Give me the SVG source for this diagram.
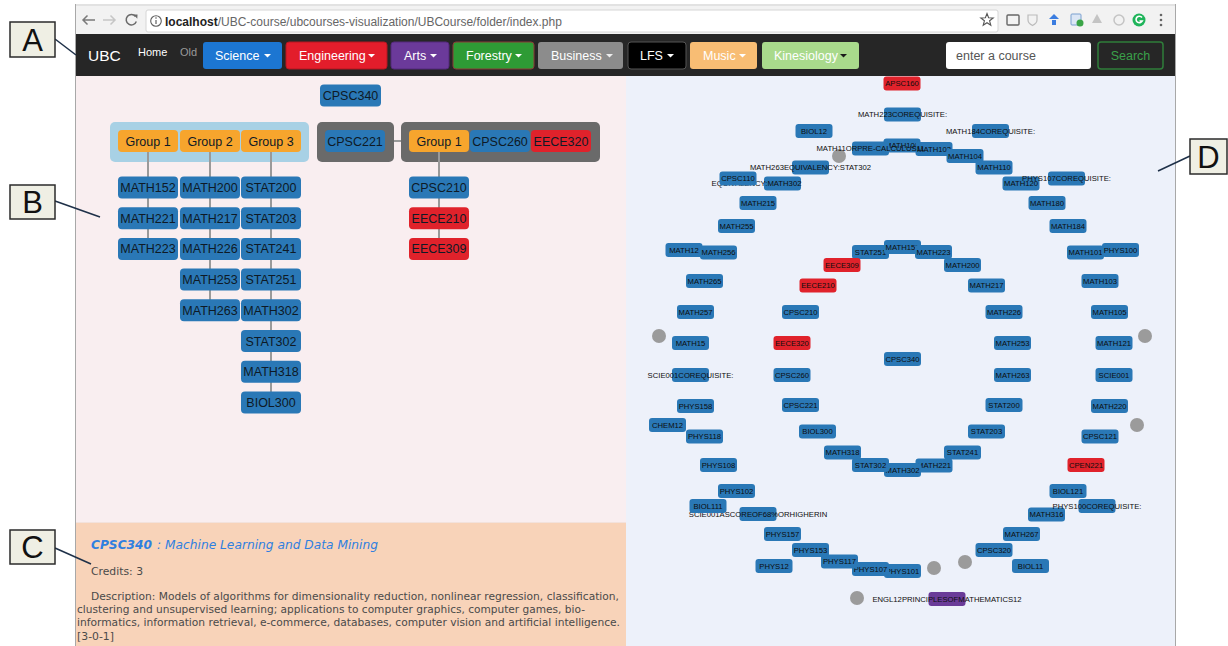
<svg xmlns="http://www.w3.org/2000/svg" width="1228" height="646" viewBox="0 0 1228 646">
<style>
.sans{font-family:"Liberation Sans",Arial,sans-serif}
.nb{fill:#2a78b6}
.nr{fill:#e0222b}
.no{fill:#f7a52d}
.np{fill:#6a3b98}
.gc{fill:#9b9b9b}
.t8{font-family:"Liberation Sans",Arial,sans-serif;font-size:7.7px;fill:#0d0d0d;text-anchor:middle}
.t12{font-family:"Liberation Sans",Arial,sans-serif;font-size:12.5px;fill:#0e1a26;text-anchor:middle}
.btn{font-family:"Liberation Sans",Arial,sans-serif;font-size:12.5px;fill:#fff}
.tree{stroke:#9a9a9a;stroke-width:2;fill:none}
.call{stroke:#1e3048;stroke-width:1.5;fill:none}
.lab rect{fill:#efefe4;stroke:#2b2b2b;stroke-width:1.5}
.lab text{font-family:"Liberation Sans",Arial,sans-serif;font-size:31px;fill:#111;text-anchor:middle}
.desc{font-family:"DejaVu Sans",Verdana,sans-serif;font-size:11px;fill:#4a4a4a}
.ico{fill:none;stroke:#666;stroke-width:1.4}
</style>
<defs>
<rect id="sb" x="-18.5" y="-7" width="37" height="14" rx="3"/>
<rect id="lb" x="-30" y="-11" width="60" height="22" rx="4"/>
<polygon id="caret" points="0,0 7,0 3.5,3.5"/>
</defs>

<rect width="1228" height="646" fill="#fff"/>

<!-- browser chrome -->
<g id="browser-bar">
<rect x="75" y="4" width="1100" height="31" fill="#f2f2f2"/>
<line x1="75" y1="5" x2="1175" y2="5" stroke="#d2d2d2"/>
<path d="M95 20H83M87.5 15.5L83 20L87.5 24.5" stroke="#7a7a7a" stroke-width="1.5" fill="none"/>
<path d="M103 20H115M110.5 15.5L115 20L110.5 24.5" stroke="#c6c6c6" stroke-width="1.5" fill="none"/>
<path d="M135.5 16.5A5.2 5.2 0 1 0 136.3 21.5" stroke="#6a6a6a" stroke-width="1.5" fill="none"/>
<polygon points="133.5,14.5 137.5,14.5 137.3,18.8" fill="#6a6a6a"/>
<rect x="146" y="10" width="852" height="22" rx="2" fill="#fff" stroke="#d6d6d6"/>
<circle cx="156" cy="21" r="5.3" fill="none" stroke="#5f5f5f" stroke-width="1.1"/>
<line x1="156" y1="20" x2="156" y2="24" stroke="#5f5f5f" stroke-width="1.2"/>
<circle cx="156" cy="18" r="0.8" fill="#5f5f5f"/>
<text class="sans" x="165" y="25.5" font-size="12" fill="#666"><tspan fill="#222" font-weight="bold">localhost</tspan>/UBC-course/ubcourses-visualization/UBCourse/folder/index.php</text>
<polygon points="987,13.5 988.6,17.8 993.2,18 989.6,20.8 990.8,25.3 987,22.7 983.2,25.3 984.4,20.8 980.8,18 985.4,17.8" fill="none" stroke="#555" stroke-width="1.1"/>
<rect x="1007" y="15" width="12" height="10" rx="1" class="ico"/>
<path d="M1028 15h9v5c0 3-2.5 4.5-4.5 5.5c-2-1-4.5-2.5-4.5-5.5z" fill="none" stroke="#bbb" stroke-width="1.2"/>
<polygon points="1054,14 1059,19 1049,19" fill="#3b7de0"/>
<rect x="1052" y="20" width="4" height="5" fill="#3b7de0"/>
<rect x="1071" y="14" width="10" height="11" rx="1" fill="#dbe6f5" stroke="#7aa0d0"/>
<circle cx="1080" cy="23" r="3.5" fill="#3aa447"/>
<path d="M1097 14l5 9h-10z" fill="#c4c4c4"/>
<circle cx="1119" cy="20" r="5" fill="none" stroke="#c4c4c4" stroke-width="1.5"/>
<circle cx="1139" cy="20" r="6.5" fill="#1fb45a"/>
<path d="M1142 17.5A3.3 3.3 0 1 0 1142.3 21H1139.5" stroke="#fff" stroke-width="1.6" fill="none"/>
<circle cx="1161" cy="15" r="1.3" fill="#666"/><circle cx="1161" cy="20" r="1.3" fill="#666"/><circle cx="1161" cy="25" r="1.3" fill="#666"/>
</g>

<!-- navbar -->
<g id="navbar">
<rect x="75" y="34" width="1100" height="42" fill="#262626"/>
<text class="sans" x="88" y="61" font-size="15.5" fill="#fff">UBC</text>
<text class="sans" x="138" y="55.5" font-size="11" fill="#fff">Home</text>
<text class="sans" x="180" y="55.5" font-size="11" fill="#9a9a9a">Old</text>
<g id="btn-science"><rect x="203" y="42" width="79" height="27" rx="3" fill="#1c76d2"/><text class="btn" x="215" y="60">Science</text><use href="#caret" x="264" y="54" fill="#fff"/></g>
<g id="btn-engineering"><rect x="286" y="42" width="101" height="27" rx="3" fill="#e31d2b" stroke="#b51620"/><text class="btn" x="299" y="60">Engineering</text><use href="#caret" x="368" y="54" fill="#fff"/></g>
<g id="btn-arts"><rect x="391" y="42" width="58" height="27" rx="3" fill="#6b3a9a" stroke="#54287c"/><text class="btn" x="404" y="60">Arts</text><use href="#caret" x="430" y="54" fill="#fff"/></g>
<g id="btn-forestry"><rect x="453" y="42" width="81" height="27" rx="3" fill="#2e9b35" stroke="#8a3a36"/><text class="btn" x="466" y="60">Forestry</text><use href="#caret" x="515" y="54" fill="#fff"/></g>
<g id="btn-business"><rect x="538" y="42" width="85" height="27" rx="3" fill="#8c8c8c"/><text class="btn" x="551" y="60" fill="#eee">Business</text><use href="#caret" x="606" y="54" fill="#eee"/></g>
<g id="btn-lfs"><rect x="628" y="42" width="58" height="27" rx="3" fill="#000" stroke="#555"/><text class="btn" x="640" y="60">LFS</text><use href="#caret" x="667" y="54" fill="#fff"/></g>
<g id="btn-music"><rect x="690" y="42" width="67" height="27" rx="3" fill="#f8bd74"/><text class="btn" x="703" y="60">Music</text><use href="#caret" x="739" y="54" fill="#fff"/></g>
<g id="btn-kinesiology"><rect x="762" y="42" width="97" height="27" rx="3" fill="#a9da8c"/><text class="btn" x="774" y="60" fill="#1a1a1a">Kinesiology</text><use href="#caret" x="840" y="54" fill="#1a1a1a"/></g>
<g id="search"><rect x="946" y="42" width="145" height="27" rx="3" fill="#fff"/><text class="sans" x="956" y="60" font-size="12.5" fill="#555">enter a course</text>
<rect x="1098" y="42" width="65" height="27" rx="3" fill="#262626" stroke="#2f7d3a" stroke-width="1.5"/><text class="sans" x="1130.5" y="60" font-size="12.5" fill="#3aa04a" text-anchor="middle">Search</text></g>
</g>

<!-- panels -->
<rect id="tree-panel" x="75" y="76" width="551" height="446" fill="#f9eef0"/>
<rect id="info-panel" x="75" y="522" width="551" height="124" fill="#f8d3b9"/>
<line x1="75" y1="522.5" x2="626" y2="522.5" stroke="#f3e2dc"/>
<rect id="radial-panel" x="626" y="76" width="549" height="570" fill="#edf1fa"/>
<line x1="75.5" y1="4" x2="75.5" y2="646" stroke="#a8a8a8"/>
<line x1="1175.5" y1="4" x2="1175.5" y2="646" stroke="#a8a8a8"/>

<!-- prerequisite tree -->
<g id="group-boxes">
<rect x="110" y="122" width="199" height="40" rx="5" fill="#a8d1e5"/>
<rect x="317" y="122" width="77" height="40" rx="5" fill="#6a6a6a"/>
<rect x="401" y="122" width="199" height="40" rx="5" fill="#6a6a6a"/>
</g>
<g id="connectors">
<line class="tree" x1="394" y1="141" x2="401" y2="141"/>
<line class="tree" x1="148" y1="152" x2="148" y2="249"/>
<line class="tree" x1="210" y1="152" x2="210" y2="310"/>
<line class="tree" x1="271" y1="152" x2="271" y2="402"/>
<line class="tree" x1="439" y1="152" x2="439" y2="249"/>
<line class="call" x1="55" y1="39" x2="76" y2="55"/>
<line class="call" x1="55" y1="201" x2="100" y2="217"/>
<line class="call" x1="55" y1="548" x2="91" y2="564"/>
<line class="call" x1="1190" y1="156" x2="1158" y2="171"/>
</g>
<g id="t-CPSC340" transform="translate(350.5,95.5)"><rect x="-30.5" y="-11" width="61" height="22" rx="4" class="nb"/><text class="t12" y="4.5">CPSC340</text></g>
<g id="t-group1" transform="translate(148,141)"><use href="#lb" class="no"/><text class="t12" y="4.5">Group 1</text></g>
<g id="t-group2" transform="translate(210,141)"><use href="#lb" class="no"/><text class="t12" y="4.5">Group 2</text></g>
<g id="t-group3" transform="translate(271,141)"><use href="#lb" class="no"/><text class="t12" y="4.5">Group 3</text></g>
<g id="t-CPSC221" transform="translate(355,141)"><use href="#lb" class="nb"/><text class="t12" y="4.5">CPSC221</text></g>
<g id="t-group1b" transform="translate(439,141)"><use href="#lb" class="no"/><text class="t12" y="4.5">Group 1</text></g>
<g id="t-CPSC260" transform="translate(500,141)"><use href="#lb" class="nb"/><text class="t12" y="4.5">CPSC260</text></g>
<g id="t-EECE320" transform="translate(561,141)"><use href="#lb" class="nr"/><text class="t12" y="4.5">EECE320</text></g>

<g id="t-MATH152" transform="translate(148,187.5)"><use href="#lb" class="nb"/><text class="t12" y="4.5">MATH152</text></g>
<g id="t-MATH221" transform="translate(148,218.2)"><use href="#lb" class="nb"/><text class="t12" y="4.5">MATH221</text></g>
<g id="t-MATH223" transform="translate(148,248.9)"><use href="#lb" class="nb"/><text class="t12" y="4.5">MATH223</text></g>
<g id="t-MATH200" transform="translate(210,187.5)"><use href="#lb" class="nb"/><text class="t12" y="4.5">MATH200</text></g>
<g id="t-MATH217" transform="translate(210,218.2)"><use href="#lb" class="nb"/><text class="t12" y="4.5">MATH217</text></g>
<g id="t-MATH226" transform="translate(210,248.9)"><use href="#lb" class="nb"/><text class="t12" y="4.5">MATH226</text></g>
<g id="t-MATH253" transform="translate(210,279.6)"><use href="#lb" class="nb"/><text class="t12" y="4.5">MATH253</text></g>
<g id="t-MATH263" transform="translate(210,310.3)"><use href="#lb" class="nb"/><text class="t12" y="4.5">MATH263</text></g>
<g id="t-STAT200" transform="translate(271,187.5)"><use href="#lb" class="nb"/><text class="t12" y="4.5">STAT200</text></g>
<g id="t-STAT203" transform="translate(271,218.2)"><use href="#lb" class="nb"/><text class="t12" y="4.5">STAT203</text></g>
<g id="t-STAT241" transform="translate(271,248.9)"><use href="#lb" class="nb"/><text class="t12" y="4.5">STAT241</text></g>
<g id="t-STAT251" transform="translate(271,279.6)"><use href="#lb" class="nb"/><text class="t12" y="4.5">STAT251</text></g>
<g id="t-MATH302" transform="translate(271,310.3)"><use href="#lb" class="nb"/><text class="t12" y="4.5">MATH302</text></g>
<g id="t-STAT302" transform="translate(271,341)"><use href="#lb" class="nb"/><text class="t12" y="4.5">STAT302</text></g>
<g id="t-MATH318" transform="translate(271,371.7)"><use href="#lb" class="nb"/><text class="t12" y="4.5">MATH318</text></g>
<g id="t-BIOL300" transform="translate(271,402.4)"><use href="#lb" class="nb"/><text class="t12" y="4.5">BIOL300</text></g>
<g id="t-CPSC210" transform="translate(439,187.5)"><use href="#lb" class="nb"/><text class="t12" y="4.5">CPSC210</text></g>
<g id="t-EECE210" transform="translate(439,218.2)"><use href="#lb" class="nr"/><text class="t12" y="4.5">EECE210</text></g>
<g id="t-EECE309" transform="translate(439,248.9)"><use href="#lb" class="nr"/><text class="t12" y="4.5">EECE309</text></g>

<!-- course details -->
<g id="course-info">
<text x="91" y="549" font-family="DejaVu Sans,Verdana,sans-serif" font-size="13" font-style="italic" font-weight="bold" fill="#2f7fe0" textLength="61" lengthAdjust="spacingAndGlyphs">CPSC340</text>
<text x="157" y="549" font-family="DejaVu Sans,Verdana,sans-serif" font-size="13" font-style="italic" fill="#2f7fe0" textLength="221" lengthAdjust="spacingAndGlyphs">: Machine Learning and Data Mining</text>
<text class="desc" x="91" y="575" textLength="52" lengthAdjust="spacingAndGlyphs">Credits: 3</text>
<text class="desc" x="91" y="600" textLength="528" lengthAdjust="spacingAndGlyphs">Description: Models of algorithms for dimensionality reduction, nonlinear regression, classification,</text>
<text class="desc" x="77" y="613" textLength="508" lengthAdjust="spacingAndGlyphs">clustering and unsupervised learning; applications to computer graphics, computer games, bio-</text>
<text class="desc" x="77" y="626" textLength="543" lengthAdjust="spacingAndGlyphs">informatics, information retrieval, e-commerce, databases, computer vision and artificial intelligence.</text>
<text class="desc" x="77" y="640" textLength="37" lengthAdjust="spacingAndGlyphs">[3-0-1]</text>
</g>

<!-- radial view: outer ring -->
<g id="r-MATH100" transform="translate(902,145.5)"><use href="#sb" class="nb"/><text class="t8" y="2.8">MATH100</text></g>
<g id="r-MATH102" transform="translate(934,149)"><use href="#sb" class="nb"/><text class="t8" y="2.8">MATH102</text></g>
<g id="r-MATH104" transform="translate(965,156)"><use href="#sb" class="nb"/><text class="t8" y="2.8">MATH104</text></g>
<g id="r-MATH110" transform="translate(994,167.5)"><use href="#sb" class="nb"/><text class="t8" y="2.8">MATH110</text></g>
<g id="r-MATH120" transform="translate(1021,183.5)"><use href="#sb" class="nb"/><text class="t8" y="2.8">MATH120</text></g>
<g id="r-MATH180" transform="translate(1047,203)"><use href="#sb" class="nb"/><text class="t8" y="2.8">MATH180</text></g>
<g id="r-MATH184" transform="translate(1068,226)"><use href="#sb" class="nb"/><text class="t8" y="2.8">MATH184</text></g>
<g id="r-MATH101" transform="translate(1085.5,252.5)"><use href="#sb" class="nb"/><text class="t8" y="2.8">MATH101</text></g>
<g id="r-MATH103" transform="translate(1100,281)"><use href="#sb" class="nb"/><text class="t8" y="2.8">MATH103</text></g>
<g id="r-MATH105" transform="translate(1109.5,312)"><use href="#sb" class="nb"/><text class="t8" y="2.8">MATH105</text></g>
<g id="r-MATH121" transform="translate(1114,343)"><use href="#sb" class="nb"/><text class="t8" y="2.8">MATH121</text></g>
<g id="r-SCIE001" transform="translate(1114,375)"><use href="#sb" class="nb"/><text class="t8" y="2.8">SCIE001</text></g>
<g id="r-MATH220" transform="translate(1109.5,406)"><use href="#sb" class="nb"/><text class="t8" y="2.8">MATH220</text></g>
<g id="r-CPSC121" transform="translate(1100,436.5)"><use href="#sb" class="nb"/><text class="t8" y="2.8">CPSC121</text></g>
<g id="r-CPEN221" transform="translate(1086,465)"><use href="#sb" class="nr"/><text class="t8" y="2.8">CPEN221</text></g>
<g id="r-BIOL121" transform="translate(1068,491)"><use href="#sb" class="nb"/><text class="t8" y="2.8">BIOL121</text></g>
<g id="r-MATH316" transform="translate(1046.5,514.5)"><use href="#sb" class="nb"/><text class="t8" y="2.8">MATH316</text></g>
<g id="r-MATH267" transform="translate(1021.5,534)"><use href="#sb" class="nb"/><text class="t8" y="2.8">MATH267</text></g>
<g id="r-CPSC320" transform="translate(994,550)"><use href="#sb" class="nb"/><text class="t8" y="2.8">CPSC320</text></g>
<g id="r-dot1"><circle class="gc" cx="965" cy="562" r="7"/></g>
<g id="r-dot2"><circle class="gc" cx="934" cy="568" r="7"/></g>
<g id="r-PHYS101" transform="translate(902.5,571)"><use href="#sb" class="nb"/><text class="t8" y="2.8">PHYS101</text></g>
<g id="r-PHYS107" transform="translate(870.5,569)"><use href="#sb" class="nb"/><text class="t8" y="2.8">PHYS107</text></g>
<g id="r-PHYS117" transform="translate(839.5,561.5)"><use href="#sb" class="nb"/><text class="t8" y="2.8">PHYS117</text></g>
<g id="r-PHYS153" transform="translate(810.5,550)"><use href="#sb" class="nb"/><text class="t8" y="2.8">PHYS153</text></g>
<g id="r-PHYS157" transform="translate(782.5,534)"><use href="#sb" class="nb"/><text class="t8" y="2.8">PHYS157</text></g>
<g id="r-SCIE001AS" transform="translate(758,514)"><use href="#sb" class="nb"/><text class="t8" y="2.8">SCIE001ASCOREOF68%ORHIGHERIN</text></g>
<g id="r-PHYS102" transform="translate(736.5,491)"><use href="#sb" class="nb"/><text class="t8" y="2.8">PHYS102</text></g>
<g id="r-PHYS108" transform="translate(718.5,465)"><use href="#sb" class="nb"/><text class="t8" y="2.8">PHYS108</text></g>
<g id="r-PHYS118" transform="translate(704.5,436.5)"><use href="#sb" class="nb"/><text class="t8" y="2.8">PHYS118</text></g>
<g id="r-PHYS158" transform="translate(695.5,406)"><use href="#sb" class="nb"/><text class="t8" y="2.8">PHYS158</text></g>
<g id="r-SCIE001CO" transform="translate(690.5,375)"><use href="#sb" class="nb"/><text class="t8" y="2.8">SCIE001COREQUISITE:</text></g>
<g id="r-MATH15" transform="translate(690.5,343)"><use href="#sb" class="nb"/><text class="t8" y="2.8">MATH15</text></g>
<g id="r-MATH257" transform="translate(695.5,312)"><use href="#sb" class="nb"/><text class="t8" y="2.8">MATH257</text></g>
<g id="r-MATH265" transform="translate(704.5,281)"><use href="#sb" class="nb"/><text class="t8" y="2.8">MATH265</text></g>
<g id="r-MATH12" transform="translate(684,250)"><use href="#sb" class="nb"/><text class="t8" y="2.8">MATH12</text></g>
<g id="r-MATH256" transform="translate(718.5,252.5)"><use href="#sb" class="nb"/><text class="t8" y="2.8">MATH256</text></g>
<g id="r-MATH255" transform="translate(736.5,226)"><use href="#sb" class="nb"/><text class="t8" y="2.8">MATH255</text></g>
<g id="r-MATH215" transform="translate(758,203)"><use href="#sb" class="nb"/><text class="t8" y="2.8">MATH215</text></g>
<g id="r-EQUIV302" transform="translate(782.5,183.5)"><use href="#sb" class="nb"/><text class="t8" x="-26" y="2.8" text-anchor="start">EQUIVALENCY:MATH302</text></g>
<g id="r-MATH263EQ" transform="translate(810.5,167.5)"><use href="#sb" class="nb"/><text class="t8" y="2.8">MATH263EQUIVALENCY:STAT302</text></g>
<g id="r-dot3"><circle class="gc" cx="839" cy="156" r="7"/></g>
<g id="r-MATH11OR" transform="translate(870.5,148.5)"><use href="#sb" class="nb"/><text class="t8" y="2.8">MATH11ORPRE-CALCULUS11</text></g>

<!-- radial view: third ring -->
<g id="r-APSC160" transform="translate(902,83.5)"><use href="#sb" class="nr"/><text class="t8" y="2.8">APSC160</text></g>
<g id="r-MATH223CO" transform="translate(902.5,114.5)"><use href="#sb" class="nb"/><text class="t8" y="2.8">MATH223COREQUISITE:</text></g>
<g id="r-MATH184CO" transform="translate(990.5,131)"><use href="#sb" class="nb"/><text class="t8" y="2.8">MATH184COREQUISITE:</text></g>
<g id="r-PHYS107CO" transform="translate(1066.5,178.5)"><use href="#sb" class="nb"/><text class="t8" y="2.8">PHYS107COREQUISITE:</text></g>
<g id="r-PHYS100" transform="translate(1120.5,250)"><use href="#sb" class="nb"/><text class="t8" y="2.8">PHYS100</text></g>
<g id="r-dot4"><circle class="gc" cx="1145" cy="336" r="7"/></g>
<g id="r-dot5"><circle class="gc" cx="1137" cy="425" r="7"/></g>
<g id="r-PHYS100CO" transform="translate(1097,506)"><use href="#sb" class="nb"/><text class="t8" y="2.8">PHYS100COREQUISITE:</text></g>
<g id="r-BIOL11" transform="translate(1030.5,566)"><use href="#sb" class="nb"/><text class="t8" y="2.8">BIOL11</text></g>
<g id="r-ENGL12" transform="translate(947,599)"><use href="#sb" class="np"/><text class="t8" y="2.8">ENGL12PRINCIPLESOFMATHEMATICS12</text></g>
<g id="r-dot6"><circle class="gc" cx="857" cy="598" r="7"/></g>
<g id="r-PHYS12" transform="translate(774,566)"><use href="#sb" class="nb"/><text class="t8" y="2.8">PHYS12</text></g>
<g id="r-BIOL111" transform="translate(708,506)"><use href="#sb" class="nb"/><text class="t8" y="2.8">BIOL111</text></g>
<g id="r-CHEM12" transform="translate(667.5,425)"><use href="#sb" class="nb"/><text class="t8" y="2.8">CHEM12</text></g>
<g id="r-dot7"><circle class="gc" cx="659" cy="336" r="7"/></g>
<g id="r-CPSC110" transform="translate(738,178.5)"><use href="#sb" class="nb"/><text class="t8" y="2.8">CPSC110</text></g>
<g id="r-BIOL12" transform="translate(814,131)"><use href="#sb" class="nb"/><text class="t8" y="2.8">BIOL12</text></g>

<!-- radial view: inner ring -->
<g id="r-STAT251" transform="translate(870.5,252)"><use href="#sb" class="nb"/><text class="t8" y="2.8">STAT251</text></g>
<g id="r-MATH152" transform="translate(902.5,247)"><use href="#sb" class="nb"/><text class="t8" y="2.8">MATH152</text></g>
<g id="r-MATH223" transform="translate(933.5,252)"><use href="#sb" class="nb"/><text class="t8" y="2.8">MATH223</text></g>
<g id="r-MATH200" transform="translate(962.5,265)"><use href="#sb" class="nb"/><text class="t8" y="2.8">MATH200</text></g>
<g id="r-MATH217" transform="translate(986.5,285.5)"><use href="#sb" class="nb"/><text class="t8" y="2.8">MATH217</text></g>
<g id="r-MATH226" transform="translate(1004,312)"><use href="#sb" class="nb"/><text class="t8" y="2.8">MATH226</text></g>
<g id="r-MATH253" transform="translate(1012.5,343)"><use href="#sb" class="nb"/><text class="t8" y="2.8">MATH253</text></g>
<g id="r-MATH263" transform="translate(1012.5,375)"><use href="#sb" class="nb"/><text class="t8" y="2.8">MATH263</text></g>
<g id="r-STAT200" transform="translate(1004,405)"><use href="#sb" class="nb"/><text class="t8" y="2.8">STAT200</text></g>
<g id="r-STAT203" transform="translate(986.5,431.5)"><use href="#sb" class="nb"/><text class="t8" y="2.8">STAT203</text></g>
<g id="r-STAT241" transform="translate(962.5,452.5)"><use href="#sb" class="nb"/><text class="t8" y="2.8">STAT241</text></g>
<g id="r-MATH221" transform="translate(934,465.5)"><use href="#sb" class="nb"/><text class="t8" y="2.8">MATH221</text></g>
<g id="r-MATH302" transform="translate(902.5,470)"><use href="#sb" class="nb"/><text class="t8" y="2.8">MATH302</text></g>
<g id="r-STAT302" transform="translate(870.5,465)"><use href="#sb" class="nb"/><text class="t8" y="2.8">STAT302</text></g>
<g id="r-MATH318" transform="translate(842.5,452.5)"><use href="#sb" class="nb"/><text class="t8" y="2.8">MATH318</text></g>
<g id="r-BIOL300" transform="translate(817.5,431.5)"><use href="#sb" class="nb"/><text class="t8" y="2.8">BIOL300</text></g>
<g id="r-CPSC221" transform="translate(800.5,405)"><use href="#sb" class="nb"/><text class="t8" y="2.8">CPSC221</text></g>
<g id="r-CPSC260" transform="translate(792,375)"><use href="#sb" class="nb"/><text class="t8" y="2.8">CPSC260</text></g>
<g id="r-EECE320" transform="translate(792,343)"><use href="#sb" class="nr"/><text class="t8" y="2.8">EECE320</text></g>
<g id="r-CPSC210" transform="translate(800.5,312)"><use href="#sb" class="nb"/><text class="t8" y="2.8">CPSC210</text></g>
<g id="r-EECE210" transform="translate(818,285.5)"><use href="#sb" class="nr"/><text class="t8" y="2.8">EECE210</text></g>
<g id="r-EECE309" transform="translate(842,265)"><use href="#sb" class="nr"/><text class="t8" y="2.8">EECE309</text></g>
<g id="r-CPSC340" transform="translate(902.5,359)"><use href="#sb" class="nb"/><text class="t8" y="2.8">CPSC340</text></g>

<!-- callout labels -->
<g id="label-A" class="lab"><rect x="10" y="22" width="45" height="35"/><text x="32.5" y="50.5">A</text></g>
<g id="label-B" class="lab"><rect x="10" y="185" width="45" height="34"/><text x="32.5" y="213">B</text></g>
<g id="label-C" class="lab"><rect x="10" y="530" width="45" height="34"/><text x="32.5" y="558">C</text></g>
<g id="label-D" class="lab"><rect x="1190" y="139" width="37" height="35"/><text x="1208.5" y="167.5">D</text></g>
</svg>
